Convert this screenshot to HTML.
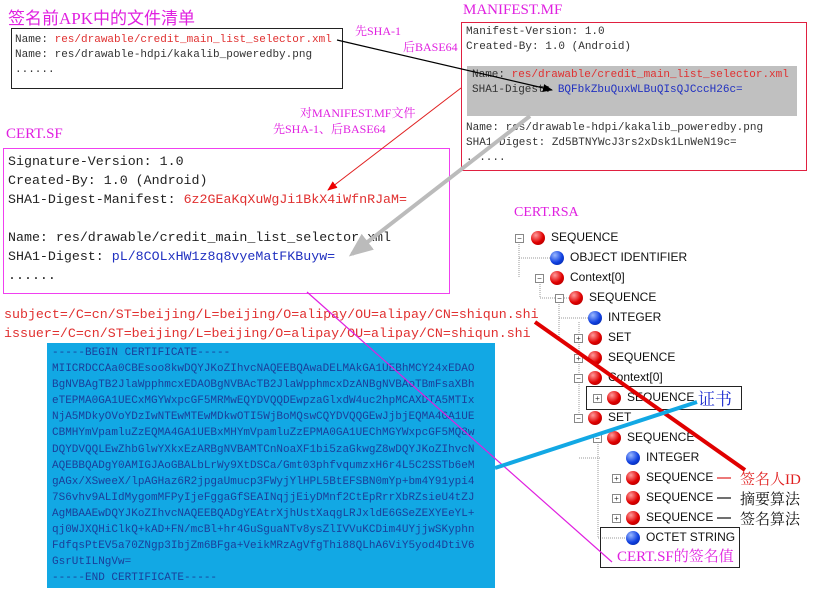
<!DOCTYPE html>
<html><head><meta charset="utf-8"><style>
body{margin:0;width:813px;height:593px;background:#fff;position:relative;overflow:hidden;font-family:"Liberation Mono","Noto Sans CJK SC",monospace;}
.a{position:absolute;white-space:pre;}
.t{font-family:"Liberation Serif","Noto Serif CJK SC",serif;color:#e020e0;}
.m{font-size:11px;color:#333;line-height:15px;}
.b{font-size:13.3px;color:#222;line-height:19px;}
.r{color:#e03030}.bl{color:#2030c0}
.tree{font-family:"Liberation Sans","Noto Sans CJK SC",sans-serif;font-size:12px;color:#111;}
.ball{position:absolute;width:14px;height:14px;border-radius:50%;}
.red{background:radial-gradient(circle at 35% 30%,#ff9a9a,#e00000 55%,#900);}
.blu{background:radial-gradient(circle at 35% 30%,#9ab8ff,#1040e0 55%,#002090);}
.exp{position:absolute;width:7px;height:7px;border:1px solid #888;background:#fff;font-size:8px;line-height:7px;text-align:center;color:#333;font-family:"Liberation Sans",sans-serif;}
</style></head><body>
<div class="a t" style="left:8px;top:4px;font-size:17px;font-family:'Liberation Serif','Noto Sans CJK SC',serif;">签名前APK中的文件清单</div>
<div class="a" style="left:11px;top:28px;width:330px;height:59px;border:1px solid #222;"></div>
<div class="a m" style="left:15px;top:33px;">Name: <span class="r">res/drawable/credit_main_list_selector.xml</span>
Name: res/drawable-hdpi/kakalib_poweredby.png
......</div>

<div class="a t" style="left:463px;top:2px;font-size:15px;">MANIFEST.MF</div>
<div class="a" style="left:461px;top:22px;width:344px;height:147px;border:1px solid #e02040;"></div>
<div class="a" style="left:467px;top:66px;width:330px;height:50px;background:#c0c0c0;"></div>
<div class="a m" style="left:466px;top:25px;">Manifest-Version: 1.0
Created-By: 1.0 (Android)</div>
<div class="a m" style="left:472px;top:68px;">Name: <span class="r">res/drawable/credit_main_list_selector.xml</span>
SHA1-Digest: <span class="bl">BQFbkZbuQuxWLBuQIsQJCccH26c=</span></div>
<div class="a m" style="left:466px;top:121px;">Name: res/drawable-hdpi/kakalib_poweredby.png
SHA1-Digest: Zd5BTNYWcJ3rs2xDsk1LnWeN19c=
......</div>

<div class="a t" style="left:355px;top:22px;font-size:12px;">先SHA-1</div>
<div class="a t" style="left:403px;top:38px;font-size:12px;">后BASE64</div>
<div class="a t" style="left:300px;top:104px;font-size:12px;">对MANIFEST.MF文件</div>
<div class="a t" style="left:273px;top:120px;font-size:12px;">先SHA-1、后BASE64</div>

<div class="a t" style="left:6px;top:126px;font-size:15px;">CERT.SF</div>
<div class="a" style="left:3px;top:148px;width:445px;height:144px;border:1px solid #f040f0;"></div>
<div class="a b" style="left:8px;top:152px;">Signature-Version: 1.0
Created-By: 1.0 (Android)
SHA1-Digest-Manifest: <span class="r">6z2GEaKqXuWgJi1BkX4iWfnRJaM=</span>

Name: res/drawable/credit_main_list_selector.xml
SHA1-Digest: <span class="bl">pL/8COLxHW1z8q8vyeMatFKBuyw=</span>
......</div>

<div class="a b r" style="left:4px;top:305px;font-family:'Liberation Mono',monospace;">subject=/C=cn/ST=beijing/L=beijing/O=alipay/OU=alipay/CN=shiqun.shi
issuer=/C=cn/ST=beijing/L=beijing/O=alipay/OU=alipay/CN=shiqun.shi</div>

<div class="a" style="left:47px;top:343px;width:448px;height:245px;background:#12a8e4;"></div>
<div class="a" style="left:52px;top:345px;font-size:11px;line-height:16.1px;color:#1a3f9a;">-----BEGIN CERTIFICATE-----
MIICRDCCAa0CBEsoo8kwDQYJKoZIhvcNAQEEBQAwaDELMAkGA1UEBhMCY24xEDAO
BgNVBAgTB2JlaWpphmcxEDAOBgNVBAcTB2JlaWpphmcxDzANBgNVBAoTBmFsaXBh
eTEPMA0GA1UECxMGYWxpcGF5MRMwEQYDVQQDEwpzaGlxdW4uc2hpMCAXDTA5MTIx
NjA5MDkyOVoYDzIwNTEwMTEwMDkwOTI5WjBoMQswCQYDVQQGEwJjbjEQMA4GA1UE
CBMHYmVpamluZzEQMA4GA1UEBxMHYmVpamluZzEPMA0GA1UEChMGYWxpcGF5MQ8w
DQYDVQQLEwZhbGlwYXkxEzARBgNVBAMTCnNoaXF1bi5zaGkwgZ8wDQYJKoZIhvcN
AQEBBQADgY0AMIGJAoGBALbLrWy9XtDSCa/Gmt03phfvqumzxH6r4L5C2SSTb6eM
gAGx/XSweeX/lpAGHaz6R2jpgaUmucp3FWyjYlHPL5BtEFSBN0mYp+bm4Y91ypi4
7S6vhv9ALIdMygomMFPyIjeFggaGfSEAINqjjEiyDMnf2CtEpRrrXbRZsieU4tZJ
AgMBAAEwDQYJKoZIhvcNAQEEBQADgYEAtrXjhUstXaqgLRJxldE6GSeZEXYEeYL+
qj0WJXQHiClkQ+kAD+FN/mcBl+hr4GuSguaNTv8ysZlIVVuKCDim4UYjjwSKyphn
FdfqsPtEV5a70ZNgp3IbjZm6BFga+VeikMRzAgVfgThi88QLhA6ViY5yod4DtiV6
GsrUtILNgVw=
-----END CERTIFICATE-----</div>

<div class="a t" style="left:514px;top:205px;font-size:14px;">CERT.RSA</div>
<svg class="a" style="left:0;top:0" width="813" height="593">
<g stroke="#999" stroke-width="1" stroke-dasharray="1,1" fill="none">
<path d="M519 242V278M519 258H551M540 282V298M540 298H570M559 302V338M559 318H589M579 322V418M579 458H600 M598 442V538M598 538H627"/>
</g>
<line x1="717" y1="478" x2="731" y2="478" stroke="#e02020" stroke-width="1.2"/>
<line x1="717" y1="498" x2="731" y2="498" stroke="#111" stroke-width="1.2"/>
<line x1="717" y1="518" x2="731" y2="518" stroke="#111" stroke-width="1.2"/>
</svg>
<div class="tree">
<div class="exp" style="left:515px;top:234px">−</div><div class="ball red" style="left:531px;top:231px"></div><div class="a" style="left:551px;top:230px">SEQUENCE</div>
<div class="ball blu" style="left:550px;top:251px"></div><div class="a" style="left:570px;top:250px">OBJECT IDENTIFIER</div>
<div class="exp" style="left:535px;top:274px">−</div><div class="ball red" style="left:550px;top:271px"></div><div class="a" style="left:570px;top:270px">Context[0]</div>
<div class="exp" style="left:555px;top:294px">−</div><div class="ball red" style="left:569px;top:291px"></div><div class="a" style="left:589px;top:290px">SEQUENCE</div>
<div class="ball blu" style="left:588px;top:311px"></div><div class="a" style="left:608px;top:310px">INTEGER</div>
<div class="exp" style="left:574px;top:334px">+</div><div class="ball red" style="left:588px;top:331px"></div><div class="a" style="left:608px;top:330px">SET</div>
<div class="exp" style="left:574px;top:354px">+</div><div class="ball red" style="left:588px;top:351px"></div><div class="a" style="left:608px;top:350px">SEQUENCE</div>
<div class="exp" style="left:574px;top:374px">−</div><div class="ball red" style="left:588px;top:371px"></div><div class="a" style="left:608px;top:370px">Context[0]</div>
<div class="exp" style="left:593px;top:394px">+</div><div class="ball red" style="left:607px;top:391px"></div><div class="a" style="left:627px;top:390px">SEQUENCE</div>
<div class="exp" style="left:574px;top:414px">−</div><div class="ball red" style="left:588px;top:411px"></div><div class="a" style="left:608px;top:410px">SET</div>
<div class="exp" style="left:593px;top:434px">−</div><div class="ball red" style="left:607px;top:431px"></div><div class="a" style="left:627px;top:430px">SEQUENCE</div>
<div class="ball blu" style="left:626px;top:451px"></div><div class="a" style="left:646px;top:450px">INTEGER</div>
<div class="exp" style="left:612px;top:474px">+</div><div class="ball red" style="left:626px;top:471px"></div><div class="a" style="left:646px;top:470px">SEQUENCE</div>
<div class="exp" style="left:612px;top:494px">+</div><div class="ball red" style="left:626px;top:491px"></div><div class="a" style="left:646px;top:490px">SEQUENCE</div>
<div class="exp" style="left:612px;top:514px">+</div><div class="ball red" style="left:626px;top:511px"></div><div class="a" style="left:646px;top:510px">SEQUENCE</div>
<div class="ball blu" style="left:626px;top:531px"></div><div class="a" style="left:646px;top:530px">OCTET STRING</div>
</div>
<div class="a" style="left:586px;top:386px;width:154px;height:22px;border:1px solid #222;"></div>
<div class="a" style="left:698px;top:385px;font-size:17px;color:#2030d0;font-family:'Liberation Serif','Noto Serif CJK SC',serif;">证书</div>
<div class="a" style="left:600px;top:527px;width:138px;height:39px;border:1px solid #222;"></div>
<div class="a t" style="left:617px;top:545px;font-size:15px;">CERT.SF的签名值</div>
<div class="a" style="left:740px;top:468px;font-size:15px;color:#e02020;font-family:'Liberation Serif','Noto Serif CJK SC',serif;">签名人ID</div>
<div class="a" style="left:740px;top:488px;font-size:15px;color:#111;font-family:'Liberation Serif','Noto Serif CJK SC',serif;">摘要算法</div>
<div class="a" style="left:740px;top:508px;font-size:15px;color:#111;font-family:'Liberation Serif','Noto Serif CJK SC',serif;">签名算法</div>

<svg class="a" style="left:0;top:0" width="813" height="593">
<defs>
<marker id="ab" markerWidth="10" markerHeight="8" refX="9" refY="4" orient="auto" markerUnits="userSpaceOnUse"><path d="M0 0L10 4L0 8z" fill="#000"/></marker>
<marker id="ar" markerWidth="10" markerHeight="8" refX="9" refY="4" orient="auto" markerUnits="userSpaceOnUse"><path d="M0 0L10 4L0 8z" fill="#e00"/></marker>
<marker id="ag" markerWidth="6" markerHeight="5" refX="5" refY="2.5" orient="auto"><path d="M0 0L6 2.5L0 5z" fill="#bbb"/></marker>
</defs>
<line x1="337" y1="40" x2="552" y2="90" stroke="#000" stroke-width="1.2" marker-end="url(#ab)"/>
<line x1="461" y1="88" x2="328" y2="190" stroke="#e02020" stroke-width="1" marker-end="url(#ar)"/>
<line x1="530" y1="116" x2="352" y2="254" stroke="#bbb" stroke-width="4" marker-end="url(#ag)"/>
<line x1="307" y1="292" x2="612" y2="562" stroke="#e020e0" stroke-width="1.2"/>
<line x1="535" y1="322" x2="745" y2="470" stroke="#e00000" stroke-width="4"/>
<line x1="495" y1="468" x2="697" y2="402" stroke="#12a8e4" stroke-width="4"/>
</svg>
</body></html>
